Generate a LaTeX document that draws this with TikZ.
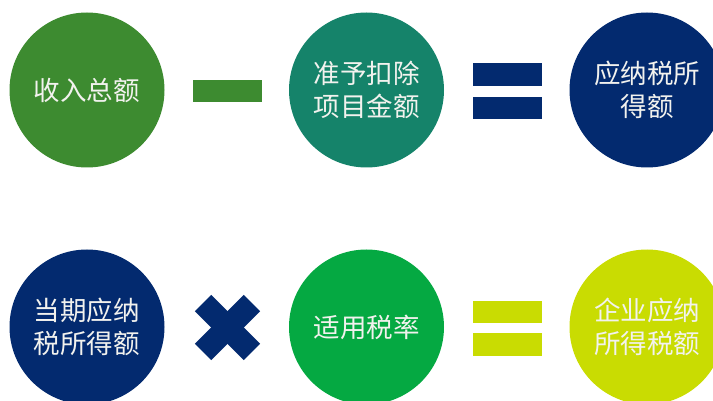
\documentclass[tikz,border=0pt]{standalone}
\usepackage{fontspec}
\newfontfamily\cjk{Noto Sans CJK SC}
\definecolor{cgreen}{HTML}{3D8B30}
\definecolor{cteal}{HTML}{15836A}
\definecolor{cnavy}{HTML}{032A6F}
\definecolor{cbright}{HTML}{05A942}
\definecolor{clime}{HTML}{C9DC02}
\definecolor{ctext}{HTML}{F2F2EE}
\begin{document}
\begin{tikzpicture}[x=1pt,y=-1pt,
  circ/.style={circle, minimum size=155pt, inner sep=0pt, text=ctext,
    font=\cjk\fontsize{26.5}{33}\selectfont, align=center},
  bar/.style={rectangle, inner sep=0pt, minimum width=69pt, minimum height=22.5pt},
  xarm/.style={rectangle, inner sep=0pt, minimum width=69pt, minimum height=23pt, fill=cnavy}]
\useasboundingbox (0,0) rectangle (713,401);
\clip (0,0) rectangle (713,401);
% row 1
\node[circ, fill=cgreen] (c1) at (87,90) {收入总额};
\node[bar, fill=cgreen] (minus) at (227.5,91) {};
\node[circ, fill=cteal] (c2) at (366.5,90) {准予扣除\\项目金额};
\node[bar, fill=cnavy] (eqa1) at (507.5,74.5) {};
\node[bar, fill=cnavy] (eqa2) at (507.5,108) {};
\node[circ, fill=cnavy] (c3) at (647,90) {应纳税所\\得额};
% row 2
\node[circ, fill=cnavy] (c4) at (87,327) {当期应纳\\税所得额};
\node[xarm, rotate=45] (xa) at (227.5,327.5) {};
\node[xarm, rotate=-45] (xb) at (227.5,327.5) {};
\node[circ, fill=cbright] (c5) at (366.5,327) {适用税率};
\node[bar, fill=clime] (eqb1) at (507.5,312) {};
\node[bar, fill=clime] (eqb2) at (507.5,344.5) {};
\node[circ, fill=clime] (c6) at (647,327) {企业应纳\\所得税额};
\end{tikzpicture}
\end{document}
